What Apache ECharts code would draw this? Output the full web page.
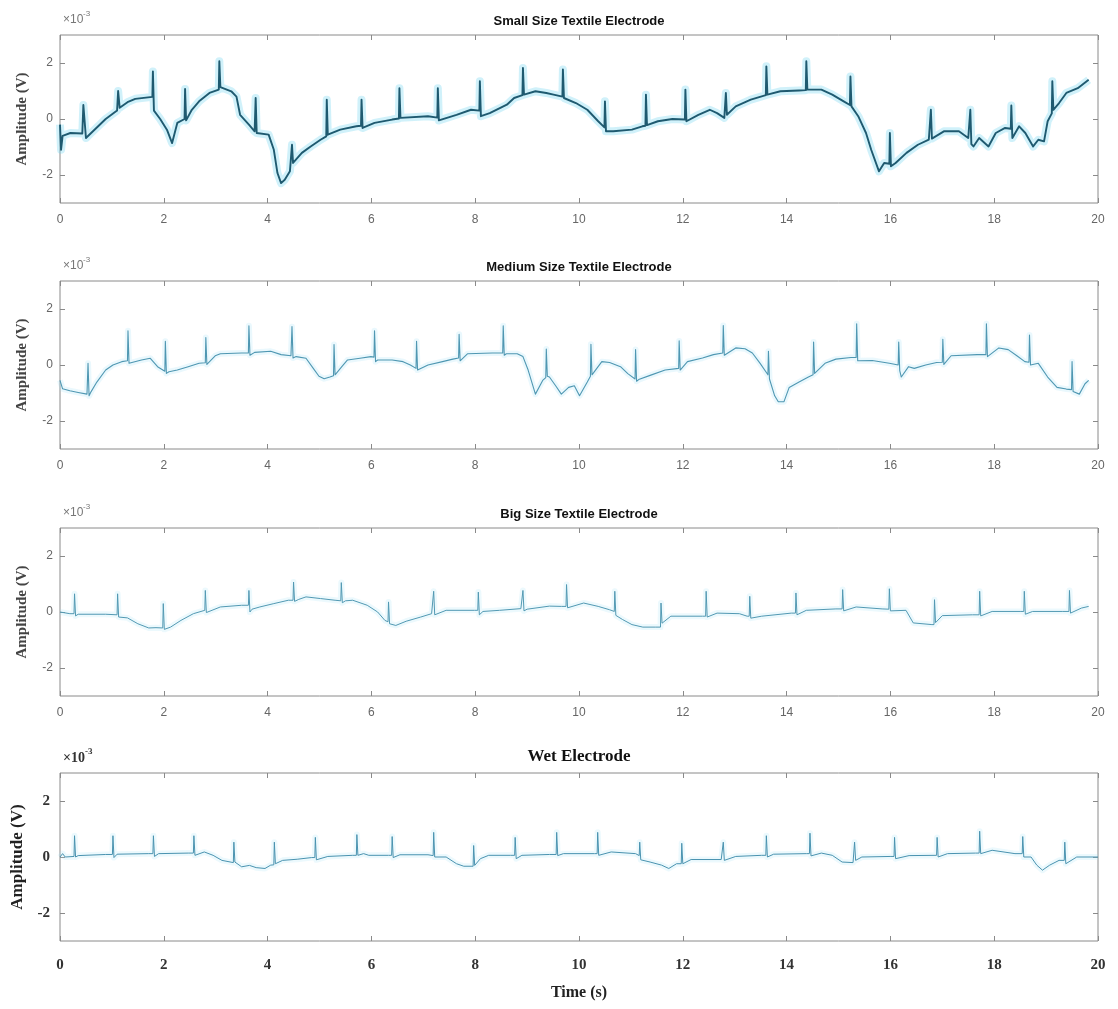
<!DOCTYPE html>
<html><head><meta charset="utf-8">
<script src="https://cdn.jsdelivr.net/npm/echarts@6/dist/echarts.min.js"></script>
<style>html,body{margin:0;padding:0;background:#fff}#c{width:1118px;height:1009px}</style>
</head><body><div id="c"></div>
<script>
// ---- data (values in units of 1e-3 V, time in s) ----
const xTicks = [0,2,4,6,8,10,12,14,16,18,20];
const yTicks = [-2,0,2];
const titles = ['Small Size Textile Electrode','Medium Size Textile Electrode','Big Size Textile Electrode','Wet Electrode'];
const yName = 'Amplitude (V)';
const xName = 'Time (s)';
const scaleText = ['×10','-3'];

const sig1 = [[0,-0.2],[0.02,-1.1],[0.05,-0.6],[0.2,-0.5],[0.43,-0.52],[0.45,0.5],[0.5,-0.68],[0.6,-0.5],[0.88,0],[1.1,0.3],[1.12,1.0],[1.15,0.4],[1.3,0.6],[1.45,0.72],[1.78,0.79],[1.79,1.7],[1.81,0.3],[1.93,0],[2.06,-0.38],[2.16,-0.86],[2.26,-0.14],[2.4,0],[2.41,1.07],[2.43,-0.05],[2.54,0.33],[2.68,0.63],[2.88,0.93],[3.06,1.05],[3.07,2.06],[3.09,1.14],[3.3,0.99],[3.4,0.8],[3.47,0.15],[3.64,-0.2],[3.75,-0.44],[3.77,0.75],[3.79,-0.5],[4.02,-0.56],[4.12,-1.1],[4.19,-1.93],[4.26,-2.29],[4.33,-2.17],[4.43,-1.87],[4.47,-0.92],[4.49,-1.57],[4.66,-1.21],[4.83,-0.98],[5.02,-0.74],[5.13,-0.62],[5.14,0.69],[5.16,-0.56],[5.4,-0.38],[5.71,-0.26],[5.8,-0.24],[5.81,0.69],[5.83,-0.32],[6.06,-0.14],[6.4,-0.02],[6.53,0.02],[6.54,1.1],[6.56,0.04],[7.09,0.1],[7.27,0.05],[7.28,1.1],[7.3,-0.05],[7.64,0.15],[7.92,0.33],[8.08,0.3],[8.09,1.35],[8.11,0.1],[8.28,0.21],[8.61,0.51],[8.75,0.75],[8.91,0.85],[8.92,1.82],[8.94,0.87],[9.16,0.99],[9.37,0.93],[9.51,0.87],[9.68,0.8],[9.69,1.77],[9.71,0.75],[9.94,0.57],[10.16,0.33],[10.37,-0.08],[10.49,-0.3],[10.5,0.63],[10.52,-0.44],[10.66,-0.44],[11.02,-0.38],[11.22,-0.26],[11.28,-0.24],[11.29,0.87],[11.31,-0.22],[11.52,-0.08],[11.8,0],[12.04,-0.02],[12.05,1.05],[12.07,-0.08],[12.3,0.15],[12.52,0.33],[12.66,0.21],[12.8,0.04],[12.82,0.04],[12.83,0.93],[12.85,0.15],[13.02,0.45],[13.31,0.69],[13.52,0.81],[13.6,0.85],[13.61,1.88],[13.63,0.87],[13.88,0.99],[14.24,1.02],[14.37,1.03],[14.38,2.06],[14.4,1.05],[14.67,1.05],[14.88,0.87],[15.1,0.63],[15.22,0.5],[15.23,1.52],[15.25,0.45],[15.38,0.1],[15.53,-0.5],[15.63,-1.1],[15.78,-1.87],[15.88,-1.57],[15.98,-1.6],[15.99,-0.5],[16.01,-1.69],[16.1,-1.57],[16.31,-1.21],[16.53,-0.92],[16.74,-0.74],[16.77,-0.72],[16.78,0.33],[16.8,-0.7],[17.03,-0.44],[17.32,-0.44],[17.5,-0.68],[17.54,0.33],[17.56,-0.9],[17.6,-0.98],[17.71,-0.68],[17.89,-0.98],[18.03,-0.5],[18.21,-0.32],[18.32,-0.35],[18.33,0.48],[18.35,-0.68],[18.48,-0.26],[18.6,-0.5],[18.75,-0.98],[18.85,-0.74],[18.96,-0.8],[19.03,-0.08],[19.11,0.2],[19.12,1.35],[19.14,0.33],[19.25,0.57],[19.39,0.93],[19.61,1.1],[19.82,1.4]];

const sig2 = [[0,-0.55],[0.05,-0.85],[0.19,-0.92],[0.35,-0.98],[0.52,-1.04],[0.54,0.06],[0.56,-1.1],[0.6,-0.95],[0.71,-0.61],[0.88,-0.18],[1.02,0],[1.19,0.12],[1.3,0.15],[1.31,1.22],[1.33,0.06],[1.57,0.18],[1.74,0.24],[1.88,-0.06],[2.02,-0.22],[2.03,0.85],[2.05,-0.3],[2.1,-0.24],[2.26,-0.18],[2.47,-0.06],[2.68,0.06],[2.8,0.08],[2.81,0.98],[2.83,0.02],[2.99,0.33],[3.09,0.4],[3.5,0.43],[3.63,0.43],[3.64,1.4],[3.66,0.35],[3.75,0.45],[4.06,0.49],[4.26,0.37],[4.45,0.33],[4.47,1.37],[4.49,0.25],[4.55,0.3],[4.74,0.24],[4.88,-0.12],[4.99,-0.4],[5.09,-0.49],[5.2,-0.43],[5.27,-0.38],[5.28,0.73],[5.3,-0.35],[5.43,-0.06],[5.54,0.18],[5.78,0.24],[5.99,0.3],[6.05,0.28],[6.06,1.22],[6.08,0.12],[6.12,0.18],[6.4,0.18],[6.61,0.12],[6.75,0],[6.86,-0.12],[6.87,0.85],[6.89,-0.18],[6.92,-0.12],[7.09,0],[7.37,0.12],[7.57,0.21],[7.68,0.25],[7.69,1.1],[7.71,0.15],[7.85,0.4],[8.33,0.43],[8.53,0.43],[8.54,1.4],[8.56,0.35],[8.6,0.4],[8.81,0.4],[8.92,0.3],[9.02,-0.18],[9.16,-1.04],[9.3,-0.55],[9.36,-0.45],[9.37,0.57],[9.39,-0.4],[9.43,-0.43],[9.55,-0.74],[9.66,-1.04],[9.8,-0.8],[9.91,-0.74],[10.01,-1.1],[10.16,-0.61],[10.22,-0.4],[10.23,0.74],[10.25,-0.35],[10.44,0.12],[10.59,0.09],[10.8,-0.06],[10.94,-0.31],[11.08,-0.5],[11.09,0.55],[11.11,-0.58],[11.15,-0.52],[11.37,-0.37],[11.66,-0.18],[11.92,-0.12],[11.93,0.86],[11.95,-0.18],[12.09,0.12],[12.38,0.25],[12.59,0.37],[12.77,0.43],[12.78,1.41],[12.8,0.35],[13.02,0.61],[13.2,0.58],[13.34,0.43],[13.49,0.06],[13.64,-0.35],[13.65,0.49],[13.67,-0.5],[13.77,-1.1],[13.84,-1.31],[13.95,-1.31],[14.05,-0.8],[14.24,-0.61],[14.42,-0.43],[14.51,-0.35],[14.52,0.82],[14.54,-0.3],[14.74,0.06],[14.95,0.21],[15.24,0.27],[15.34,0.27],[15.35,1.47],[15.37,0.15],[15.4,0.18],[15.65,0.16],[15.98,0.06],[16.15,0.0],[16.16,0.82],[16.18,-0.2],[16.21,-0.43],[16.35,-0.06],[16.46,-0.12],[16.68,0],[16.89,0.09],[17.0,0.1],[17.01,0.92],[17.03,0.02],[17.17,0.33],[17.67,0.37],[17.84,0.37],[17.85,1.47],[17.87,0.3],[17.9,0.37],[18.09,0.61],[18.27,0.55],[18.45,0.31],[18.59,0.12],[18.67,0.1],[18.68,1.07],[18.7,0],[18.85,0.06],[19.03,-0.43],[19.21,-0.8],[19.39,-0.86],[19.49,-0.88],[19.5,0.12],[19.52,-0.95],[19.64,-1.04],[19.75,-0.67],[19.82,-0.55]];

const sig3 = [[0,0],[0.19,-0.06],[0.27,-0.06],[0.28,0.65],[0.3,-0.14],[0.35,-0.08],[0.88,-0.08],[1.1,-0.1],[1.11,0.65],[1.13,-0.18],[1.3,-0.21],[1.5,-0.42],[1.71,-0.57],[1.85,-0.56],[1.98,-0.57],[1.99,0.3],[2.01,-0.62],[2.13,-0.54],[2.33,-0.3],[2.57,-0.06],[2.79,0.06],[2.8,0.77],[2.82,-0.02],[2.85,0.05],[3.09,0.18],[3.5,0.24],[3.63,0.24],[3.64,0.77],[3.66,0],[3.7,0.1],[3.85,0.18],[4.12,0.3],[4.4,0.42],[4.49,0.42],[4.5,1.07],[4.52,0.38],[4.6,0.45],[4.74,0.54],[5.02,0.48],[5.3,0.42],[5.41,0.4],[5.42,1.05],[5.44,0.33],[5.5,0.4],[5.64,0.42],[5.92,0.24],[6.12,0],[6.26,-0.3],[6.32,-0.35],[6.33,0.36],[6.35,-0.42],[6.47,-0.48],[6.67,-0.33],[6.95,-0.18],[7.16,-0.06],[7.19,-0.06],[7.2,0.74],[7.22,-0.1],[7.44,0.06],[7.99,0.06],[8.05,0.06],[8.06,0.71],[8.08,-0.1],[8.15,0.02],[8.47,0.06],[8.88,0.12],[8.91,0.12],[8.92,0.77],[8.94,0.04],[9.0,0.1],[9.43,0.21],[9.66,0.2],[9.75,0.2],[9.76,0.98],[9.78,0.15],[10.09,0.32],[10.37,0.2],[10.59,0.08],[10.68,0.02],[10.69,0.74],[10.71,-0.12],[10.84,-0.27],[11.02,-0.45],[11.23,-0.54],[11.48,-0.54],[11.57,-0.54],[11.58,0.32],[11.6,-0.4],[11.77,-0.15],[12.38,-0.15],[12.44,-0.15],[12.45,0.74],[12.47,-0.18],[12.66,-0.04],[13.09,-0.06],[13.24,-0.15],[13.28,-0.15],[13.29,0.56],[13.31,-0.22],[13.52,-0.15],[14.09,-0.04],[14.17,-0.04],[14.18,0.68],[14.2,-0.1],[14.38,0.06],[14.95,0.11],[15.07,0.11],[15.08,0.8],[15.1,0.04],[15.34,0.18],[15.84,0.11],[15.97,0.1],[15.98,0.83],[16.0,0.04],[16.3,0.06],[16.44,-0.39],[16.8,-0.45],[16.84,-0.45],[16.85,0.44],[16.87,-0.38],[17.0,-0.13],[17.58,-0.1],[17.71,-0.1],[17.72,0.74],[17.74,-0.14],[17.96,0.02],[18.5,0.02],[18.57,0.02],[18.58,0.74],[18.6,-0.08],[18.74,0.02],[19.31,0.02],[19.44,0.02],[19.45,0.77],[19.47,-0.04],[19.68,0.14],[19.82,0.2]];

const sig4 = [[0,0],[0.05,0.12],[0.1,0],[0.27,0.02],[0.28,0.76],[0.3,0],[0.35,0.05],[0.88,0.09],[1.01,0.09],[1.02,0.76],[1.04,-0.02],[1.1,0.1],[1.71,0.12],[1.79,0.12],[1.8,0.76],[1.82,0.02],[1.9,0.12],[2.47,0.14],[2.57,0.14],[2.58,0.76],[2.6,0.06],[2.78,0.18],[2.95,0.06],[3.12,-0.12],[3.34,-0.2],[3.35,0.53],[3.37,-0.18],[3.5,-0.35],[3.65,-0.3],[3.78,-0.38],[3.95,-0.41],[4.06,-0.29],[4.12,-0.28],[4.13,0.53],[4.15,-0.24],[4.29,-0.12],[4.57,-0.08],[4.85,-0.02],[4.91,-0.02],[4.92,0.7],[4.94,-0.1],[5.16,0.02],[5.64,0.06],[5.71,0.06],[5.72,0.8],[5.74,0.06],[5.85,0.12],[5.95,0.06],[6.33,0.06],[6.39,0.06],[6.4,0.73],[6.42,-0.02],[6.55,0.08],[7.09,0.08],[7.19,0.05],[7.2,0.88],[7.22,0],[7.44,0],[7.64,-0.24],[7.78,-0.33],[7.92,-0.33],[7.96,-0.33],[7.97,0.41],[7.99,-0.3],[8.1,-0.06],[8.26,0.06],[8.68,0.06],[8.76,0.06],[8.77,0.7],[8.79,-0.06],[8.9,0.06],[9.43,0.09],[9.56,0.09],[9.57,0.88],[9.59,0.05],[9.7,0.12],[10.3,0.12],[10.35,0.12],[10.36,0.88],[10.38,0.06],[10.62,0.18],[11.09,0.12],[11.16,0.05],[11.17,0.53],[11.19,-0.1],[11.37,-0.18],[11.59,-0.29],[11.73,-0.41],[11.88,-0.24],[11.97,-0.24],[11.98,0.49],[12.0,-0.24],[12.16,-0.09],[12.74,-0.09],[12.77,-0.09],[12.78,0.53],[12.8,-0.12],[13.02,0.02],[13.52,0.06],[13.6,0.06],[13.61,0.76],[13.63,0],[13.75,0.1],[14.38,0.12],[14.44,0.12],[14.45,0.85],[14.47,0.04],[14.67,0.14],[14.88,0.06],[15.07,-0.18],[15.28,-0.2],[15.3,-0.2],[15.31,0.53],[15.33,-0.12],[15.45,0],[16.01,0.02],[16.07,0.02],[16.08,0.7],[16.1,-0.06],[16.36,0.05],[16.89,0.06],[16.9,0.7],[16.92,0],[17.1,0.12],[17.64,0.14],[17.71,0.14],[17.72,0.92],[17.74,0.12],[17.96,0.24],[18.4,0.12],[18.54,0.12],[18.55,0.73],[18.57,0],[18.71,0],[18.82,-0.29],[18.93,-0.47],[19.07,-0.29],[19.25,-0.12],[19.35,-0.12],[19.36,0.53],[19.38,-0.24],[19.59,0],[20,0]];

const signals = [sig1, sig2, sig3, sig4];

// ---- layout / style ----
const L = 60, R = 20, H = 168;
const tops = [35, 281, 528, 773];
const sans = 'Liberation Sans, Arial, sans-serif';
const serif = 'Liberation Serif, Times New Roman, serif';
const styles = [
  {main:'#1f5a70', mw:1.9, halo:'rgba(110,212,238,0.32)', hw:8},
  {main:'#4f97b2', mw:1.1, halo:'rgba(160,225,245,0.22)', hw:6},
  {main:'#5299b3', mw:1.0, halo:'rgba(160,225,245,0.2)', hw:6},
  {main:'#4a93b0', mw:1.0, halo:'rgba(160,225,245,0.2)', hw:6}
];

const grid = [], xAxis = [], yAxis = [], series = [], graphic = [];
tops.forEach((top, i) => {
  const wet = i === 3;
  const tickFont = wet ? {fontFamily: serif, fontWeight:'bold', fontSize:15, color:'#333'}
                       : {fontFamily: sans, fontSize:12, color:'#666'};
  grid.push({left:L, right:R, top:top, height:H, show:true, borderColor:'#8a8a8a', borderWidth:1, backgroundColor:'rgba(0,0,0,0)'});
  const tick = {show:true, inside:true, length:5, lineStyle:{color:'#8a8a8a', width:1}};
  const noLine = {show:false, onZero:false};
  xAxis.push({gridIndex:i, type:'value', min:0, max:20, interval:2, position:'bottom',
    axisLine:noLine, splitLine:{show:false}, axisTick:tick,
    axisLabel:Object.assign({margin: wet ? 17 : 11}, tickFont)});
  xAxis.push({gridIndex:i, type:'value', min:0, max:20, interval:2, position:'top',
    axisLine:noLine, splitLine:{show:false}, axisTick:tick, axisLabel:{show:false}});
  yAxis.push({gridIndex:i, type:'value', min:-3, max:3, position:'left',
    axisLine:noLine, splitLine:{show:false},
    axisTick:Object.assign({customValues:yTicks}, tick),
    axisLabel:Object.assign({customValues:yTicks, margin: wet ? 10 : 7}, tickFont),
    name:yName, nameLocation:'middle', nameGap: 30,
    nameTextStyle:{fontFamily:serif, fontWeight:'bold', fontSize: wet ? 17 : 15, color: wet ? '#222' : '#444'}});
  yAxis.push({gridIndex:i, type:'value', min:-3, max:3, position:'right',
    axisLine:noLine, splitLine:{show:false},
    axisTick:Object.assign({customValues:yTicks}, tick), axisLabel:{show:false}});
  const st = styles[i];
  series.push({type:'line', xAxisIndex:2*i, yAxisIndex:2*i, data:signals[i], symbol:'none', silent:true,
    lineStyle:{color:st.halo, width:st.hw, join:'round'}});
  series.push({type:'line', xAxisIndex:2*i, yAxisIndex:2*i, data:signals[i], symbol:'none', silent:true,
    lineStyle:{color:st.main, width:st.mw, join:'round'}});
  // title
  graphic.push({type:'text', x:(L + 1118 - R)/2, y: top - (wet ? 16 : 14),
    style:{text:titles[i], align:'center', verticalAlign:'middle',
      font: wet ? ('bold 17px ' + serif) : ('bold 13px ' + sans), fill:'#111'}});
  // x10^-3
  graphic.push({type:'text', x: L + 3, y: top - 15,
    style:{text:scaleText[0], align:'left', verticalAlign:'middle',
      font: wet ? ('bold 14px ' + serif) : ('12px ' + sans), fill: wet ? '#333' : '#777'}});
  graphic.push({type:'text', x: L + (wet ? 25 : 23), y: top - 21,
    style:{text:scaleText[1], align:'left', verticalAlign:'middle',
      font: wet ? ('bold 9px ' + serif) : ('8px ' + sans), fill: wet ? '#333' : '#777'}});
});
graphic.push({type:'text', x:(L + 1118 - R)/2, y: 993,
  style:{text:xName, align:'center', verticalAlign:'middle', font:'bold 16px ' + serif, fill:'#222'}});

const chart = echarts.init(document.getElementById('c'), null, {renderer:'canvas'});
chart.setOption({animation:false, backgroundColor:'#fff', grid, xAxis, yAxis, series, graphic});
</script></body></html>
